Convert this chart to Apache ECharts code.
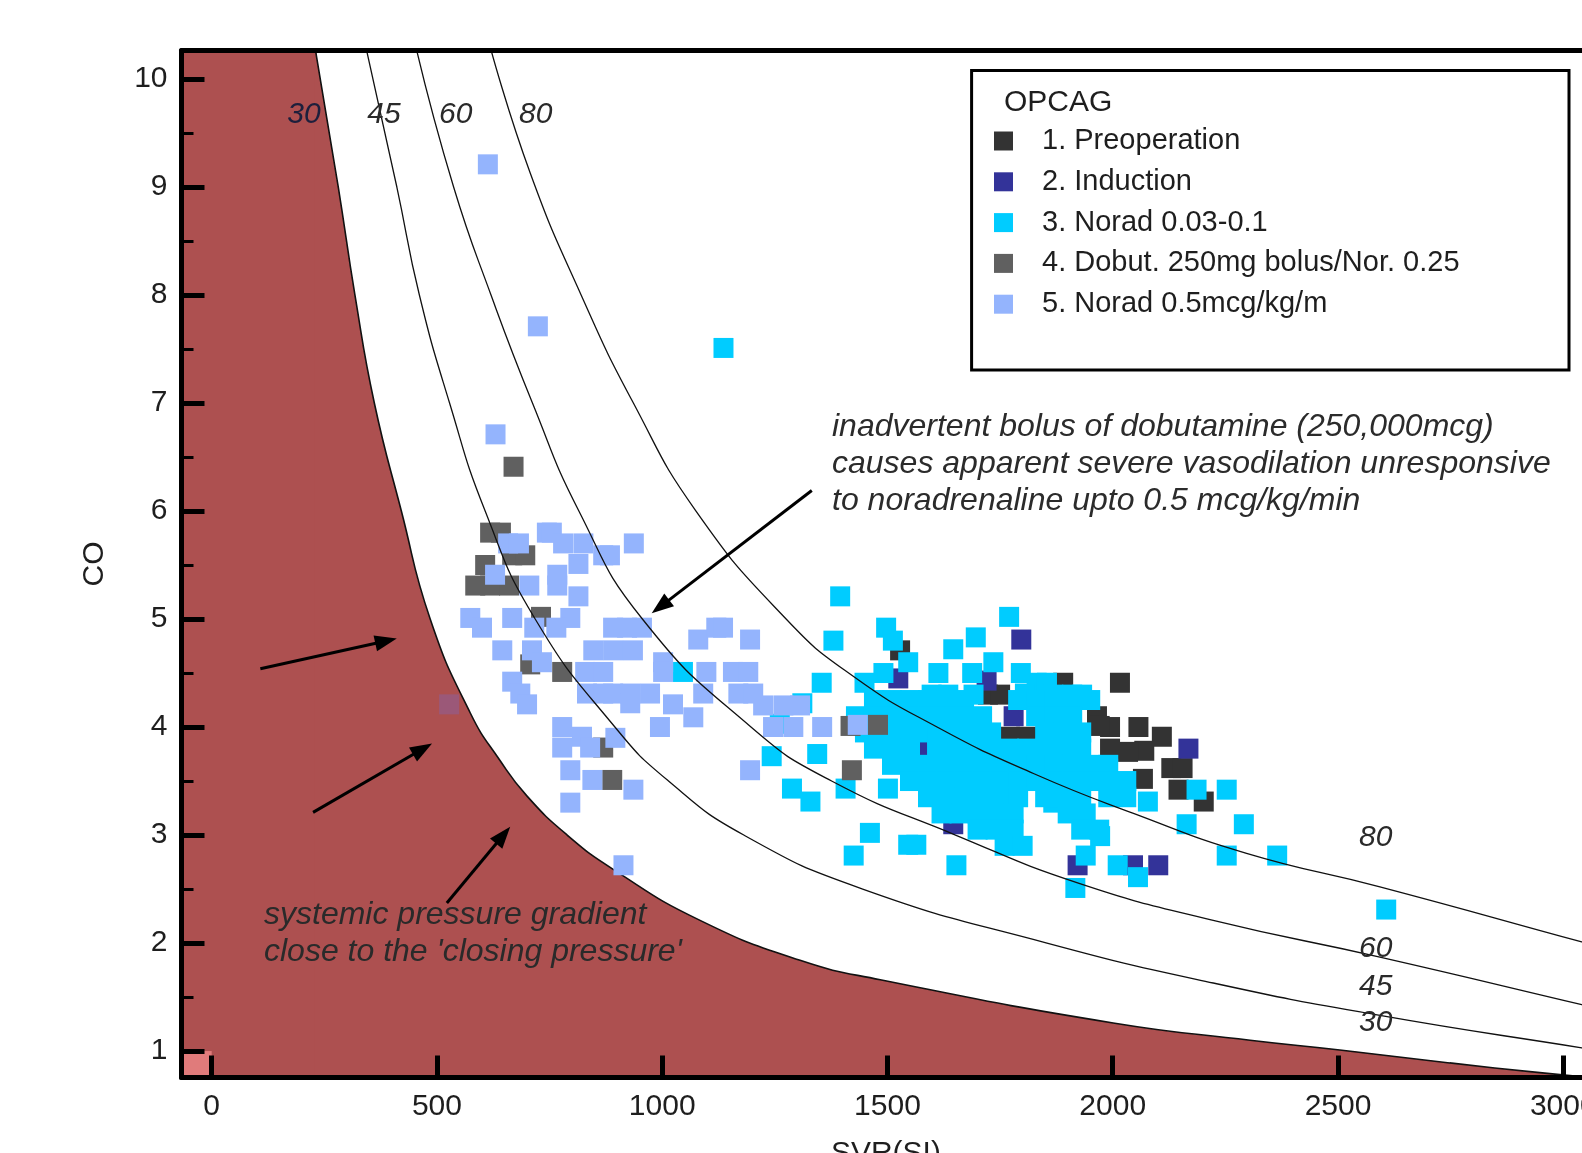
<!DOCTYPE html>
<html>
<head>
<meta charset="utf-8">
<script src="https://cdn.jsdelivr.net/npm/echarts@6/dist/echarts.min.js"></script>
<style>
  html, body { margin: 0; padding: 0; overflow: hidden; background: #ffffff; width: 1582px; height: 1153px; }
  #chart { position: absolute; left: 0; top: 0; width: 1600px; height: 1153px; }
</style>
</head>
<body>
<div id="chart"></div>
<script>
// ---------- axes ----------
const svrTicks = [0, 500, 1000, 1500, 2000, 2500, 3000];
const coTicks = [1, 2, 3, 4, 5, 6, 7, 8, 9, 10];
const coMinorTicks = [1.5, 2.5, 3.5, 4.5, 5.5, 6.5, 7.5, 8.5, 9.5];
const X_MIN = -67, X_MAX = 3060, Y_MIN = 0.755, Y_MAX = 10.264;

// ---------- pressure isolines [SVR, CO] ----------
const iso30 = [[229, 10.3], [281, 9.0], [318, 8.0], [361, 7.0], [421, 6.0], [485, 5.0], [574, 4.13],
  [640, 3.69], [700, 3.36], [789, 3.0], [892, 2.68], [1084, 2.21], [1306, 1.84], [1484, 1.66],
  [2001, 1.26], [2305, 1.1], [2504, 1.01], [2748, 0.89], [2948, 0.8], [3060, 0.755]];
const iso45 = [[342, 10.3], [411, 9.0], [461, 8.0], [528, 7.0], [607, 6.0], [718, 5.0], [895, 4.0],
  [1014, 3.5], [1181, 3.0], [1445, 2.5], [1854, 2.0], [2223, 1.63], [2593, 1.33], [3041, 1.03], [3060, 1.02]];
const iso60 = [[453, 10.3], [537, 9.0], [620, 8.0], [712, 7.0], [815, 6.0], [956, 5.0], [1197, 4.0],
  [1376, 3.5], [1651, 3.0], [1927, 2.55], [2223, 2.21], [2593, 1.87], [3041, 1.43], [3060, 1.41]];
const iso80 = [[618, 10.3], [707, 9.13], [820, 8.0], [936, 7.0], [1075, 6.0], [1275, 5.0], [1424, 4.47],
  [1610, 4.0], [1824, 3.57], [2046, 3.2], [2297, 2.83], [2593, 2.52], [3041, 2.01], [3060, 1.99]];

// ---------- measurements [SVR, CO] ----------
const preoperation = [[1528, 4.71], [1723, 4.3], [1750, 4.3], [1666, 4.2], [1890, 4.41], [2016, 4.41],
  [1965, 4.1], [1994, 4.0], [2057, 4.0], [2109, 3.91], [1808, 3.91], [1901, 3.86], [1772, 3.91],
  [2070, 3.78], [2067, 3.52], [2130, 3.62], [2155, 3.62], [2146, 3.42], [2202, 3.31], [1994, 3.8],
  [2034, 3.77], [1971, 4.01]];
const induction = [[1524, 4.45], [1797, 4.81], [1720, 4.43], [1780, 4.1], [1575, 3.82], [1646, 3.1],
  [2168, 3.8], [1922, 2.72], [2045, 2.72], [2101, 2.72]];
const noradLow = [
  [1136, 7.51], [1395, 5.21], [1770, 5.02], [1497, 4.92], [1512, 4.8], [1380, 4.8], [1696, 4.83],
  [1646, 4.72], [1546, 4.6], [1491, 4.5], [1354, 4.41], [1449, 4.41], [1311, 4.22], [1261, 4.03],
  [1243, 3.73], [1344, 3.75], [1288, 3.43], [1329, 3.31], [1407, 3.43], [1461, 3.02], [1425, 2.81],
  [1501, 3.43], [1546, 2.91], [1564, 2.91], [1653, 2.72], [1917, 2.51], [1940, 2.81], [2011, 2.72],
  [2056, 2.61], [2078, 3.31], [2164, 3.1], [2186, 3.42], [2253, 3.42], [2291, 3.1], [2253, 2.81],
  [2365, 2.81], [2607, 2.31], [1046, 4.51], [1613, 4.5], [1688, 4.5], [1735, 4.6], [1796, 4.5],
  [1831, 4.41], [1854, 4.41], [1805, 4.31], [1598, 4.3], [1635, 4.3], [1691, 4.3], [1484, 4.2],
  [1868, 4.3], [1910, 4.3], [1932, 4.3], [1868, 3.3], [1935, 3.1], [1972, 2.99],
  [1470, 4.25], [1510, 4.25], [1550, 4.25], [1590, 4.25], [1630, 4.25], [1670, 4.25], [1790, 4.25],
  [1830, 4.25], [1870, 4.25], [1910, 4.25], [1950, 4.25],
  [1430, 4.1], [1470, 4.1], [1510, 4.1], [1550, 4.1], [1590, 4.1], [1630, 4.1], [1670, 4.1], [1710, 4.1],
  [1830, 4.1], [1870, 4.1], [1910, 4.1],
  [1450, 3.95], [1490, 3.95], [1530, 3.95], [1570, 3.95], [1610, 3.95], [1650, 3.95], [1690, 3.95],
  [1730, 3.95], [1850, 3.95], [1890, 3.95], [1930, 3.95],
  [1470, 3.8], [1510, 3.8], [1550, 3.8], [1610, 3.8], [1650, 3.8], [1690, 3.8], [1730, 3.8], [1770, 3.8],
  [1810, 3.8], [1850, 3.8], [1890, 3.8], [1930, 3.8],
  [1510, 3.65], [1550, 3.65], [1590, 3.65], [1630, 3.65], [1670, 3.65], [1710, 3.65], [1750, 3.65],
  [1790, 3.65], [1830, 3.65], [1870, 3.65], [1910, 3.65], [1950, 3.65], [1990, 3.65],
  [1550, 3.5], [1590, 3.5], [1630, 3.5], [1670, 3.5], [1710, 3.5], [1750, 3.5], [1790, 3.5], [1830, 3.5],
  [1870, 3.5], [1910, 3.5], [1950, 3.5], [1990, 3.5], [2030, 3.5],
  [1590, 3.35], [1630, 3.35], [1670, 3.35], [1710, 3.35], [1750, 3.35], [1790, 3.35], [1850, 3.35],
  [1890, 3.35], [1930, 3.35], [1990, 3.35], [2030, 3.35],
  [1620, 3.2], [1660, 3.2], [1700, 3.2], [1740, 3.2], [1780, 3.2], [1900, 3.2], [1940, 3.2],
  [1700, 3.05], [1740, 3.05], [1780, 3.05], [1930, 3.05], [1970, 3.05],
  [1760, 2.9], [1800, 2.9]];
const dobutBolus = [[618, 5.8], [642, 5.8], [607, 5.5], [667, 5.59], [696, 5.59], [585, 5.31], [618, 5.31],
  [660, 5.31], [670, 6.41], [731, 5.02], [707, 4.58], [778, 4.51], [869, 3.81], [889, 3.51],
  [1418, 4.01], [1479, 4.02], [1421, 3.6]];
const noradHigh = [
  [613, 9.21], [724, 7.71], [630, 6.71],
  [658, 5.7], [682, 5.7], [744, 5.8], [755, 5.8], [780, 5.7], [825, 5.7], [869, 5.59], [884, 5.59],
  [814, 5.51], [937, 5.7], [767, 5.41], [767, 5.31], [705, 5.31], [814, 5.21], [629, 5.41],
  [574, 5.01], [600, 4.92], [667, 5.01], [716, 4.92], [796, 5.01], [765, 4.92], [891, 4.92], [922, 4.92],
  [955, 4.92], [847, 4.71], [891, 4.71], [935, 4.71], [645, 4.71], [711, 4.71], [733, 4.6],
  [829, 4.51], [869, 4.51], [833, 4.31], [869, 4.31], [891, 4.31], [667, 4.42], [685, 4.31], [700, 4.21],
  [929, 4.31], [929, 4.22], [1002, 4.6], [1002, 4.51], [973, 4.31], [1024, 4.21], [1069, 4.09], [995, 4.0],
  [1098, 4.51], [1091, 4.31], [1080, 4.81], [1120, 4.92], [1135, 4.92], [1195, 4.81],
  [1157, 4.51], [1191, 4.51], [1169, 4.31], [1202, 4.31],
  [1224, 4.2], [1269, 4.2], [1306, 4.2], [1246, 4.0], [1291, 4.0],
  [778, 4.0], [822, 3.91], [778, 3.81], [840, 3.81], [896, 3.9],
  [796, 3.6], [845, 3.51], [936, 3.42], [796, 3.3], [1195, 3.6], [914, 2.72],
  [1355, 4.0], [1434, 4.02]];
// one reading that sits inside the shaded zone
const noradHighShaded = [[527, 4.21]];

// ---------- annotation arrows [from, to] ----------
const arrows = [
  [[1332, 6.19], [996, 5.115]],
  [[108, 4.54], [387, 4.797]],
  [[225, 3.21], [468, 3.797]],
  [[522, 2.37], [647, 2.998]]
];

const FONT = '"Liberation Sans", Arial, Helvetica, sans-serif';
const RED = '#ad5050';
const TXT = '#1e1e1e';

const colors = {
  pre: '#333333', ind: '#333399', low: '#00ccff', dob: '#606060', high: '#94b4fd'
};

function scatter(name, data, color) {
  return {
    type: 'scatter', name: name, data: data, symbol: 'rect', symbolSize: 20,
    itemStyle: { color: color, opacity: 1 }, z: 3, silent: true
  };
}
function isoLine(data, width) {
  return {
    type: 'line', data: data, smooth: 0.5, symbol: 'none', silent: true,
    lineStyle: { color: '#111111', width: width }, z: 4
  };
}
function text(x, y, str, size, italic, fill, align) {
  return {
    type: 'text', z: 20, x: x, y: y,
    style: {
      text: str, fontFamily: FONT, fontSize: size, fontStyle: italic ? 'italic' : 'normal',
      fill: fill, align: align || 'left', verticalAlign: 'middle'
    }
  };
}

const chart = echarts.init(document.getElementById('chart'), null, { renderer: 'canvas' });

const labelFont = { fontFamily: FONT, fontSize: 30, color: TXT, formatter: v => String(v) };

const option = {
  animation: false,
  backgroundColor: '#ffffff',
  grid: { left: 181.5, top: 50.5, right: 9.7, bottom: 75.5, containLabel: false, outerBoundsMode: 'none' },
  xAxis: [
    {
      type: 'value', min: X_MIN, max: X_MAX, position: 'bottom', z: 10,
      name: 'SVR(SI)', nameLocation: 'middle', nameGap: 61,
      nameTextStyle: { fontFamily: FONT, fontSize: 30, color: TXT },
      axisLine: { onZero: false, lineStyle: { color: '#000', width: 5 } },
      axisTick: { inside: true, length: 22, customValues: svrTicks, lineStyle: { color: '#000', width: 5 } },
      axisLabel: Object.assign({ margin: 14, customValues: svrTicks }, labelFont),
      splitLine: { show: false }
    },
    {
      type: 'value', min: X_MIN, max: X_MAX, position: 'top', z: 10,
      axisLine: { onZero: false, lineStyle: { color: '#000', width: 5 } },
      axisTick: { show: false }, axisLabel: { show: false }, splitLine: { show: false }
    }
  ],
  yAxis: [
    {
      type: 'value', min: Y_MIN, max: Y_MAX, position: 'left', z: 10,
      name: 'CO', nameLocation: 'middle', nameGap: 72,
      nameTextStyle: { fontFamily: FONT, fontSize: 30, color: TXT },
      axisLine: { onZero: false, lineStyle: { color: '#000', width: 5 } },
      axisTick: { inside: true, length: 23, customValues: coTicks, lineStyle: { color: '#000', width: 5 } },
      axisLabel: Object.assign({ margin: 14, customValues: coTicks }, labelFont),
      splitLine: { show: false }
    },
    {
      type: 'value', min: Y_MIN, max: Y_MAX, position: 'left', z: 10,
      axisLine: { show: false, onZero: false },
      axisTick: { inside: true, length: 12, customValues: coMinorTicks, lineStyle: { color: '#000', width: 3 } },
      axisLabel: { show: false }, splitLine: { show: false }
    }
  ],
  legend: {
    data: ['1. Preoperation', '2. Induction', '3. Norad 0.03-0.1', '4. Dobut. 250mg bolus/Nor. 0.25', '5. Norad 0.5mcg/kg/m'],
    orient: 'vertical', left: 994, top: 126, itemWidth: 19, itemHeight: 19, itemGap: 10.8,
    icon: 'rect', selectedMode: false, z: 20, padding: 0,
    textStyle: { fontFamily: FONT, fontSize: 29, color: TXT, lineHeight: 30, padding: [0, 0, 0, 24] }
  },
  graphic: [
    { type: 'rect', z: 15, shape: { x: 971.6, y: 70.6, width: 597.4, height: 299.4 },
      style: { fill: '#ffffff', stroke: '#000000', lineWidth: 3 } },
    text(1004, 102.5, 'OPCAG', 30, false, TXT),
    // annotation: dobutamine bolus
    text(832, 427.5, 'inadvertent bolus of dobutamine (250,000mcg)', 32, true, '#2b2b2b'),
    text(832, 464, 'causes apparent severe vasodilation unresponsive', 32, true, '#2b2b2b'),
    text(832, 501, 'to noradrenaline upto 0.5 mcg/kg/min', 32, true, '#2b2b2b'),
    // annotation: closing pressure
    text(264, 915.5, 'systemic pressure gradient', 32, true, '#2a2a2a'),
    text(264, 952.5, "close to the 'closing pressure'", 32, true, '#2a2a2a'),
    // isoline labels, top
    text(304, 115, '30', 30, true, '#1d1f3c', 'center'),
    text(384, 115, '45', 30, true, '#2a2a2a', 'center'),
    text(455.7, 115, '60', 30, true, '#2a2a2a', 'center'),
    text(535.8, 115, '80', 30, true, '#2a2a2a', 'center'),
    // isoline labels, right
    text(1375.8, 838, '80', 30, true, '#2a2a2a', 'center'),
    text(1375.8, 949, '60', 30, true, '#2a2a2a', 'center'),
    text(1375.8, 986.7, '45', 30, true, '#2a2a2a', 'center'),
    text(1375.8, 1023, '30', 30, true, '#2a2a2a', 'center')
  ],
  series: [
    // shaded region below the 30 isoline
    {
      type: 'line', data: iso30, smooth: 0.5, symbol: 'none', silent: true, z: 1,
      lineStyle: { color: '#111111', width: 1.6 },
      areaStyle: { color: RED, opacity: 1, origin: 'start' },
      markArea: {
        silent: true, itemStyle: { color: RED, borderWidth: 0 },
        data: [[{ coord: [X_MIN, Y_MIN] }, { coord: [iso30[0][0] + 4, Y_MAX] }]]
      }
    },
    scatter('1. Preoperation', preoperation, colors.pre),
    scatter('2. Induction', induction, colors.ind),
    scatter('3. Norad 0.03-0.1', noradLow, colors.low),
    scatter('4. Dobut. 250mg bolus/Nor. 0.25', dobutBolus, colors.dob),
    scatter('5. Norad 0.5mcg/kg/m', noradHigh, colors.high),
    scatter('shaded reading', noradHighShaded, '#9b5878'),
    Object.assign(isoLine(iso45, 1.3), {
      markArea: {
        silent: true, itemStyle: { color: '#e07b7b', borderWidth: 0 },
        data: [[{ coord: [X_MIN, Y_MIN] }, { coord: [0, 1] }]]
      }
    }),
    isoLine(iso60, 1.3),
    Object.assign(isoLine(iso80, 1.3), {
      markLine: {
        silent: true, symbol: ['none', 'triangle'], symbolSize: [16, 22], animation: false,
        lineStyle: { color: '#000000', width: 3, type: 'solid' },
        label: { show: false },
        data: arrows.map(a => [{ coord: a[0] }, { coord: a[1] }])
      }
    })
  ]
};

chart.setOption(option);
</script>
</body>
</html>
